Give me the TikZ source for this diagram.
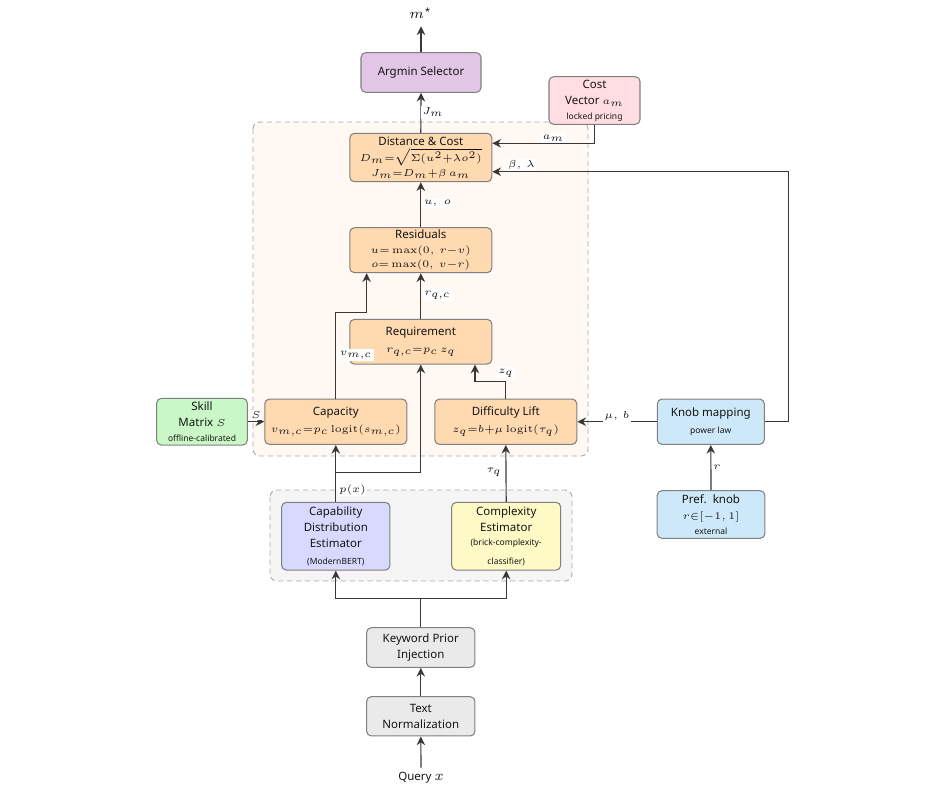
\documentclass[tikz,border=0pt]{standalone}
\usepackage{exscale}
\usepackage[no-math]{fontspec}
\setmainfont{Noto Sans}
\DeclareMathSizes{5.67}{5}{5}{5}
\usetikzlibrary{arrows.meta,calc}
\definecolor{boxborder}{HTML}{808080}
\definecolor{arrc}{HTML}{383838}
\definecolor{textc}{HTML}{151515}
\definecolor{grpb}{HTML}{AAAAAA}
\definecolor{cpurple}{HTML}{E2C6E6}
\definecolor{cpink}{HTML}{FFDDE2}
\definecolor{corange}{HTML}{FFDAB0}
\definecolor{cgreen}{HTML}{C9F7C6}
\definecolor{cblue}{HTML}{CDE8F8}
\definecolor{clav}{HTML}{D9D9FF}
\definecolor{cyel}{HTML}{FFF9C6}
\definecolor{cgrey}{HTML}{EAEAEA}
\definecolor{gorange}{HTML}{FFF8F3}
\definecolor{ggrey}{HTML}{F5F5F5}
\newcommand\fnt{\fontsize{5.67}{7.9}\selectfont}
\newcommand\sml{\fontsize{4.2}{5.5}\selectfont}
\tikzset{
  box/.style={draw=boxborder, line width=0.52pt, rounded corners=2.3pt, inner sep=0pt,
    align=center, font=\fnt, text=textc},
  lbl/.style={fill=white, inner sep=0.8pt, font=\fnt, text=textc},
  arr/.style={draw=arrc, line width=0.57pt, -{Stealth[length=4.3pt,width=4.2pt,inset=1.4pt]}},
  grp/.style={draw=grpb, dash pattern=on 2.6pt off 1.8pt, line width=0.46pt, rounded corners=3.4pt},
  orbox/.style={box, fill=corange, minimum width=142*0.493pt},
}
\begin{document}
\begin{tikzpicture}[x=0.493pt,y=-0.493pt]
\useasboundingbox (0,0) rectangle (939,805);
% groups
\draw[grp, fill=gorange] (253,122) rectangle (588,456);
\draw[grp, fill=ggrey] (270,490) rectangle (572,581);
% boxes
\node[box, fill=cpurple, minimum width=120*0.493pt, minimum height=39.6*0.493pt] (argmin) at (421,72.5) {Argmin Selector};
\node[box, fill=cpink, minimum width=91*0.493pt, minimum height=47.6*0.493pt] (cost) at (594.5,100.5) {Cost\\Vector $a_m$\\[-0.4pt]{\sml locked\ pricing}};
\node[orbox, minimum height=48.4*0.493pt] (dist) at (420.8,157.5) {Distance \& Cost\\[0.4pt]$D_m{=}\sqrt{\Sigma(u^2{+}\lambda o^2)}$\\[-0.8pt]$J_m{=}D_m{+}\beta\,a_m$};
\node[orbox, minimum height=45*0.493pt] (resid) at (420.8,250.2) {Residuals\\[-0.7pt]$u{=}\max(0,\,r{-}v)$\\[-0.7pt]$o{=}\max(0,\,v{-}r)$};
\node[orbox, minimum height=44.7*0.493pt] (req) at (420.8,341.7) {Requirement\\[0.9pt]$r_{q,c}{=}p_c\,z_q$};
\node[orbox, minimum height=45.3*0.493pt] (cap) at (335.8,421.7) {Capacity\\[0.7pt]$v_{m,c}{=}p_c\,\mathrm{logit}(s_{m,c})$};
\node[orbox, minimum height=45.3*0.493pt] (diff) at (505.8,421.7) {Difficulty Lift\\[0.7pt]$z_q{=}b{+}\mu\,\mathrm{logit}(\tau_q)$};
\node[box, fill=cgreen, minimum width=90.6*0.493pt, minimum height=46.7*0.493pt] (skill) at (202,421.7) {Skill\\Matrix $S$\\[-0.4pt]{\sml offline-calibrated}};
\node[box, fill=cblue, minimum width=107*0.493pt, minimum height=45.3*0.493pt] (knob) at (710.8,421.7) {Knob mapping\\[0.3pt]{\sml power\ law}};
\node[box, fill=cblue, minimum width=107.7*0.493pt, minimum height=47.6*0.493pt] (pref) at (711,514.5) {Pref.\ \ knob\\$r{\in}[-1,1]$\\[-0.4pt]{\sml external}};
\node[box, fill=clav, minimum width=108.3*0.493pt, minimum height=67.7*0.493pt] (capest) at (335.8,536.2) {Capability\\Distribution\\Estimator\\[0.7pt]{\sml (ModernBERT)}};
\node[box, fill=cyel, minimum width=109*0.493pt, minimum height=67.7*0.493pt] (compest) at (506.2,536.2) {Complexity\\Estimator\\[-0.7pt]{\sml (brick-complexity-}\\[1.4pt]{\sml classifier)}};
\node[box, fill=cgrey, minimum width=108.3*0.493pt, minimum height=39.6*0.493pt] (kw) at (420.8,647.5) {Keyword Prior\\Injection};
\node[box, fill=cgrey, minimum width=108.3*0.493pt, minimum height=39.3*0.493pt] (tn) at (420.8,716.3) {Text\\Normalization};
\node[font=\fnt, text=textc, inner sep=1pt] (query) at (421,777.5) {Query \fontsize{7}{8}\selectfont$x$};
\node[font=\fontsize{7}{8}\selectfont, text=textc, inner sep=1pt] (mstar) at (421,13) {$m^\star$};
% connectors
\draw[arr, shorten >=2.7pt] (argmin.north) -- (mstar.south);
\draw[arr] (dist.north) -- (argmin.south);
\draw[arr] (cost.south) |- ([yshift=7pt]dist.east);
\draw[arr] (knob.east) -- ++(23.4,0) |- ([yshift=-7pt]dist.east);
\draw[arr] (resid.north) -- (dist.south);
\draw[arr] (req.north) -- (resid.south);
\draw[arr] (cap.north) -- ++(0,-85.7) -| ([xshift=-26.7pt]resid.south);
\draw[arr] (diff.north) -- ++(0,-17.3) -| ([xshift=26.7pt]req.south);
\draw[arr] (capest.north) -- (cap.south);
\draw[arr] (capest.north) -- ++(0,-29) -| (req.south);
\draw[arr] (compest.north) -- (diff.south);
\draw[arr] (skill.east) -- (cap.west);
\draw[arr] (knob.west) -- (diff.east);
\draw[arr] (pref.north) -- (knob.south);
\draw[arr] (kw.north) -- ++(0,-28.7) -| (capest.south);
\draw[arr] (kw.north) -- ++(0,-28.7) -| (compest.south);
\draw[arr] (tn.north) -- (kw.south);
\draw[arr, shorten <=1pt] (query.north) -- (tn.south);
% labels
\node[lbl] (lJ) at (433,112.5) {$J_m$};
\node[lbl] (la) at (553.5,138) {$a_m$};
\node[lbl] (lbl1) at (521.5,165) {$\beta,\,\lambda$};
\node[lbl] (luo) at (437.5,203.5) {$u,\;o$};
\node[lbl] (lr) at (437.5,295) {$r_{q,c}$};
\node[lbl] (lv) at (356,355) {$v_{m,c}$};
\node[lbl] (lz) at (506,373) {$z_q$};
\node[lbl] (lS) at (256,415) {$S$};
\node[lbl] (lmu) at (617,415.5) {$\mu,\,b$};
\node[lbl] (lrr) at (717,467.5) {$r$};
\node[lbl] (ltau) at (494,472.5) {$\tau_q$};
\node[lbl] (lp) at (352.5,489.5) {$p(x)$};
\end{tikzpicture}
\end{document}
